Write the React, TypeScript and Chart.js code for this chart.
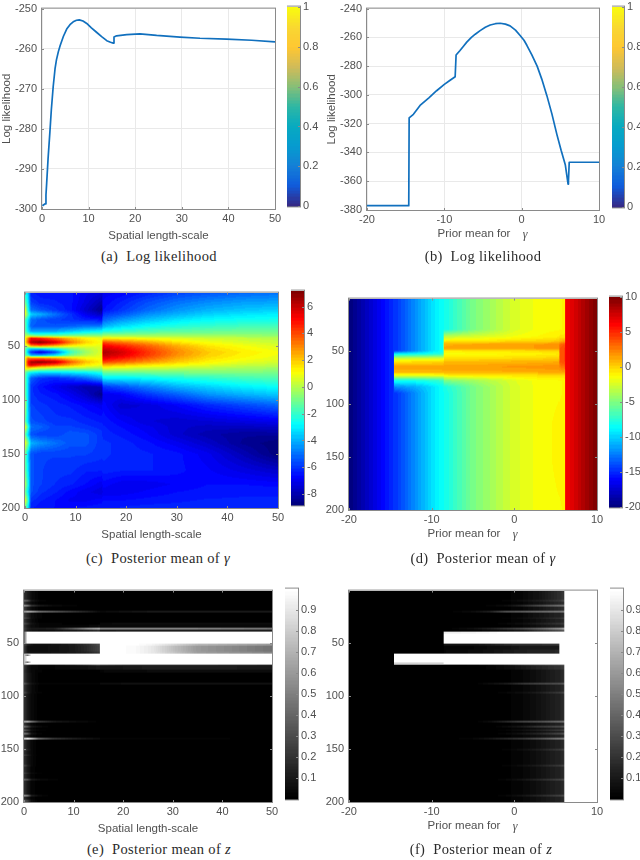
import React, { useEffect, useRef } from "react";
import { Chart, registerables } from "chart.js";

Chart.register(...registerables);

// ---------- line panels ----------
const likeLengthX = [0.1,0.3,0.7,0.85,1,1.3,1.7,2,2.4,2.8,3.1,3.5,3.9,4.6,5.3,6,6.7,7.4,8,8.8,9.6,10.6,11.7,12.8,13.9,14.7,15.3,15.45,16,18.2,21,24.6,29.6,33.9,39.6,45,50];
const likeLengthY = [-299.2,-299,-298.7,-296.5,-293.6,-287.5,-280.7,-275.3,-269.5,-265,-262.8,-260.8,-259.2,-256.9,-255.1,-254,-253.3,-252.9,-252.8,-253.1,-253.7,-254.8,-255.9,-257,-258,-258.4,-258.6,-257.1,-256.8,-256.5,-256.3,-256.7,-257.1,-257.4,-257.6,-257.9,-258.3];
const likeMeanX = [-20,-14.6,-14.55,-14,-13.14,-12,-11,-10,-9.3,-8.6,-8.48,-8,-7.5,-7.1,-6.5,-6,-5.37,-4.7,-4.07,-3.4,-2.78,-2.1,-1.5,-0.8,-0.2,0.3,0.67,1.3,2,2.6,3.26,3.9,4.56,5.1,5.64,6,6.05,6.15,10];
const likeMeanY = [-377,-377,-316,-313.5,-307.3,-302,-297.1,-292.7,-290,-287.4,-272.3,-269.3,-266,-263.3,-260,-257.8,-255.3,-253,-251.4,-250.5,-250.2,-250.8,-252,-255,-258.7,-262,-265.5,-272,-280,-289,-300.5,-313,-327.6,-338.5,-348.5,-362,-360,-346.8,-346.8];

const ticksLengthX = [0,10,20,30,40,50];
const ticksMeanX = [-20,-10,0,10];
const ticksLikeA = [-300,-290,-280,-270,-260,-250];
const ticksLikeB = [-380,-360,-340,-320,-300,-280,-260,-240];
const ticksRow = [50,100,150,200];
const ticksBarParula = [0,0.2,0.4,0.6,0.8,1];
const ticksBarC = [-8,-6,-4,-2,0,2,4,6];
const ticksBarD = [-20,-15,-10,-5,0,5,10];
const ticksBarGray = [0.1,0.2,0.3,0.4,0.5,0.6,0.7,0.8,0.9];

// ---------- panel (c) ----------
const cX = [0,0.6,1.2,3,6,9,12,15.2,15.4,19,24,30,36,43,50];
const cY = [1,10,17,21,26,32,37,41,43,47,50,53,56,59,61,65,68,71,75,80,88,95,105,120,125,132,140,150,165,178,185,193,200];
const cValues = [
[-2.5,-3.5,-6.3,-6.5,-6.5,-6.5,-7,-7.3,-7,-6.8,-6.3,-5.8,-5.5,-5.2,-5],
[-1,-3,-5.8,-6.2,-6.3,-6.5,-7.2,-8,-6.8,-6.3,-5.6,-5,-4.6,-4.3,-4.2],
[1,-2.5,-5,-5.5,-6,-6.5,-7.5,-8.5,-6.6,-6,-5.2,-4.5,-4,-3.7,-3.5],
[1,-1.5,-3.5,-4,-5,-6,-7,-7.8,-6,-5.5,-4.6,-4,-3.5,-3.2,-3],
[-1.5,-3,-5,-5.5,-5.8,-6,-6.3,-6.5,-5.3,-4.5,-3.8,-3.2,-2.8,-2.6,-2.5],
[-1,-3.5,-5.3,-5.5,-5.5,-5.3,-5,-4.8,-4,-3.3,-2.7,-2.3,-2,-1.8,-1.8],
[-1,-3,-4,-4.2,-4,-3.5,-3,-2.6,-2.3,-2,-1.6,-1.3,-1.2,-1.1,-1.1],
[0,0,-0.5,-1,-1,-0.8,-0.6,-0.5,-0.2,-0.2,-0.3,-0.3,-0.3,-0.4,-0.5],
[1,3,5,4.5,3.2,2,1.2,0.7,1.2,1.1,0.9,0.6,0.4,0.2,0],
[1,4,6.2,7,5.8,3.4,1.9,1.1,4,3.4,2.6,1.6,1,0.6,0.3],
[0,1,3,3.5,2.6,1.4,0.9,0.8,5.2,4.6,3.6,2.4,1.5,1,0.6],
[-1,-3,-3.5,-3.5,-2.5,-1,0,0.6,5.9,5.3,4.1,2.8,1.8,1.2,0.8],
[-1,-4,-6,-7.3,-5.5,-2,-0.4,0.7,6.4,5.8,4.4,3,2,1.4,1],
[-1,-2,-4,-4,-3,-1,0.1,0.8,6.1,5.5,4.3,2.9,1.9,1.3,0.9],
[1,3,2.5,2.5,2,1.4,1,0.9,5.6,5,3.9,2.6,1.7,1.2,0.8],
[1,5,6.5,7,6.2,3.8,2.2,1.3,4.2,3.7,2.9,2,1.3,0.8,0.5],
[1,4.5,5.5,4.5,3.6,2.4,1.4,0.8,2.4,2,1.5,1.1,0.7,0.3,0.1],
[1,1.5,1,0.3,-0.3,-0.3,-0.2,-0.3,0.6,0.4,0.2,0.1,-0.1,-0.3,-0.4],
[-1,-2.5,-3,-3.5,-3.5,-3.2,-3,-2.5,-1.3,-1.3,-1.2,-1,-0.9,-0.9,-0.9],
[-1,-3.5,-5.3,-6,-6.2,-5.8,-5.2,-4.2,-3,-3,-2.8,-2.4,-2.1,-1.8,-1.6],
[-1,-3.5,-6,-6.5,-7,-7.5,-8,-7.8,-6,-5.5,-4.8,-4,-3.5,-3,-2.7],
[-1,-3.5,-6,-6.3,-6.5,-7,-7.6,-8.6,-7,-6.8,-6,-5.3,-4.5,-4,-3.6],
[0,-3.5,-5.8,-6,-6.2,-6.4,-6.7,-7,-6.7,-7.5,-7.3,-6.8,-6.2,-5.7,-5.2],
[-1,-3.5,-5.5,-5.7,-6,-6,-6.2,-6.4,-6.4,-6.8,-7.3,-7.5,-7.4,-7.2,-7],
[1,-2,-5,-5.2,-5.8,-5.8,-6,-6.2,-6.3,-6.6,-7,-7.5,-7.7,-7.7,-7.6],
[-1,-3.5,-5.5,-5.8,-5.8,-5.4,-5.5,-6,-6.2,-6.4,-6.8,-7.5,-8,-8.3,-8.3],
[1,-1,-4,-4.5,-5,-5.5,-5.5,-6,-6,-6.2,-6.5,-7,-7.6,-8.4,-8.8],
[-1,-3.5,-5.5,-5.8,-5.8,-5.8,-5.8,-6,-6,-6.2,-6.3,-6.5,-7,-7.9,-8.8],
[-1,-3,-5.5,-5.8,-6,-6,-6.3,-6.3,-6.2,-6.3,-6.3,-6.5,-6.8,-7.2,-7.6],
[0,-2.5,-5.5,-5.8,-6.1,-6.3,-6.6,-7,-6.7,-7,-7,-6.8,-6.6,-6.6,-6.7],
[-1,-3,-5.5,-6,-6.3,-6.7,-7,-7.3,-7,-7,-6.8,-6.6,-6.5,-6.4,-6.4],
[1,-2,-6,-6.3,-6.6,-6.9,-6.9,-6.7,-6.6,-6.6,-6.5,-6.4,-6.3,-6.3,-6.3],
[-1,-3,-6.3,-6.5,-6.6,-6.6,-6.5,-6.4,-6.4,-6.3,-6.2,-6.2,-6.2,-6.1,-6.1],
];

// ---------- panel (d) ----------
const dX = [-20,-15.2,-15,-14.6,-14.5,-12,-10,-8.6,-8.5,-5,-2,0,3,5.4,5.5,6.1,6.2,10];
const dY = [1,30,37,41,44,48,50,53,57,60,65,70,73,78,84,90,120,150,200];
const dValues = [
[-20,-15.4,-15,-14.8,-14.8,-12,-9.6,-8.3,-8.3,-5.2,-3.5,-2.4,-1.5,-1.3,-1.3,-1.2,6.2,10],
[-20,-15.4,-15,-14.8,-14.8,-12,-9.6,-8.3,-8.3,-5.2,-3.5,-2.4,-1.5,-1.3,-1.3,-1.2,6.2,10],
[-20,-15.4,-15,-14.8,-14.8,-12,-9.6,-8.3,-3,-2.4,-2,-1.6,-1.2,-0.8,-0.6,-0.5,6.2,10],
[-20,-15.4,-15,-14.8,-14.8,-12,-9.6,-8.3,-0.8,-0.6,-0.4,-0.2,0,0.2,0.8,1.2,6.2,10],
[-20,-15.4,-15,-14.8,-14.8,-12,-9.6,-8.3,1,1.2,1.3,1.4,1.6,1.8,3,3.6,6.2,10],
[-20,-15.4,-15,-14.8,-14.8,-12,-9.6,-8.3,1.2,1.3,1.3,1.4,1.6,1.6,3.5,4,6.2,10],
[-20,-15.4,-15,-14.8,-14.8,-12,-9.6,-8.3,-0.8,-0.6,-0.5,-0.4,-0.2,0,3.6,4,6.2,10],
[-20,-15.4,-15,-14.8,-9,-8.5,-8,-7.5,-1.5,-1.4,-1.3,-1.2,-1,-0.8,3.5,4,6.2,10],
[-20,-15.4,-15,-14.8,-3.5,-3,-2.8,-2.6,-0.5,-0.5,-0.4,-0.3,-0.2,0,3.5,4,6.2,10],
[-20,-15.4,-15,-14.8,-0.8,-0.6,-0.5,-0.4,0.5,0.5,0.6,0.7,0.8,1,3.6,4,6.2,10],
[-20,-15.4,-15,-14.8,1.4,1.4,1.4,1.5,1.5,1.5,1.6,1.7,1.8,2,2.5,3,6.2,10],
[-20,-15.4,-15,-14.8,0.8,0.8,0.8,0.9,1,1,1,1,1.2,1.3,1.3,1.4,6.2,10],
[-20,-15.4,-15,-14.8,-1.5,-1.5,-1.5,-1.5,-0.8,-0.6,-0.5,-0.4,-0.3,-0.2,-0.2,-0.2,6.2,10],
[-20,-15.4,-15,-14.8,-8,-8,-7.5,-7,-5,-4,-3,-2.2,-1.5,-1.3,-1.3,-1.2,6.2,10],
[-20,-15.4,-15,-14.8,-12,-11,-9.6,-8.3,-8,-5.2,-3.5,-2.4,-1.5,-1.3,-1.3,-1.2,6.2,10],
[-20,-15.4,-15,-14.8,-14.8,-12,-9.6,-8.3,-8.3,-5.2,-3.5,-2.4,-1.5,-1.3,-1.3,-1.2,6.2,10],
[-20,-15.4,-15,-14.8,-14.8,-12,-9.6,-8.3,-8.3,-5.2,-3.5,-2.4,-1.5,-1.1,-1.1,-1,6.2,10],
[-20,-15.4,-15,-14.8,-14.8,-12,-9.6,-8.3,-8.3,-5.2,-3.5,-2.4,-1.5,-1.1,-1.1,-1,6.2,10],
[-20,-15.4,-15,-14.8,-14.8,-12,-9.6,-8.3,-8.3,-5.2,-3.5,-2.4,-1.5,-1.3,-1.3,-1.2,6.2,10],
];

// ---------- panel (e): each row starts at eY and holds until the next; rows are filled with 0 on the right ----------
const eX = [0,0.7,1.5,3,6,10,13,15.2,15.4,22,26,30,35,50];
const eY = [1,9.5,11,14.5,16,20,22,26,27.5,31.5,33,36,38,40,51,53,58,60,61,62.2,67.5,69,70.5,72,75,78,88,89.5,96,97.5,123.5,125,128,129.5,131.5,133,135,136.5,139,141,150,151.5,155,156.5,165,166.5,172,173.5,178,179.5,193,195,198,199.5];
const eValues = [
[0.2,0.12,0.05,0.01],
[0.38,0.3,0.1,0.03],
[0.22,0.12,0.05,0.01],
[0.55,0.45,0.2,0.1,0.04,0.02],
[0.25,0.12,0.05,0.01],
[0.55,0.65,0.6,0.42,0.32,0.2,0.12,0.05,0.04,0.08,0.1,0.1,0.1,0.1],
[0.25,0.15,0.06,0.02],
[0.35,0.25,0.07,0.02],
[0.22,0.12,0.05,0.01],
[0.3,0.2,0.08,0.03,0.02,0.01,0.01,0.01,0.04,0.06,0.06,0.06,0.06,0.06],
[0.22,0.12,0.06,0.03,0.02,0.02,0.03,0.05,0.04,0.04,0.04,0.04,0.04,0.04],
[0.25,0.15,0.1,0.1,0.12,0.35,0.55,0.65,0.5,0.5,0.5,0.5,0.5,0.45],
[0.25,0.12,0.08,0.06,0.06,0.1,0.14,0.18,0.1,0.12,0.12,0.12,0.12,0.12],
[0.35,1,1,1,1,1,1,1,1,1,1,1,1,1],
[0.3,0.15,0.08,0.07,0.08,0.12,0.2,0.3,1,1,0.95,0.85,0.72,0.6],
[0.25,0.08,0.05,0.05,0.07,0.1,0.18,0.27,1,0.98,0.9,0.75,0.6,0.45],
[0.25,0.1,0.07,0.07,0.08,0.1,0.15,0.22,1,0.98,0.9,0.78,0.62,0.52],
[0.7,1,1,1,1,1,1,1,1,1,1,1,1,1],
[0.8,0.15,1,1,1,1,1,1,1,1,1,1,1,1],
[0.7,1,1,1,1,1,1,1,1,1,1,1,1,1],
[0.8,0.15,1,1,1,1,1,1,1,1,1,1,1,1],
[0.7,1,1,1,1,1,1,1,1,1,1,1,1,1],
[0.3,0.2,0.08,0.06,0.06,0.12,0.2,0.3,0.25,0.18,0.18,0.18,0.18,0.15],
[0.25,0.1,0.04,0.03,0.03,0.05,0.08,0.1,0.08,0.1,0.12,0.12,0.12,0.1],
[0.22,0.1,0.04,0.02,0,0,0,0,0.03,0.04,0.05,0.05,0.05,0.05],
[0.22,0.12,0.05,0.01],
[0.35,0.2,0.08,0.03,0.02,0.02,0.02,0.02,0.05,0.07,0.07,0.07,0.07,0.07],
[0.22,0.12,0.05,0.01],
[0.3,0.15,0.05,0.02],
[0.2,0.1,0.04,0.01],
[0.6,0.65,0.45,0.22,0.1,0.05,0.03,0.01],
[0.22,0.12,0.04],
[0.45,0.3,0.1,0.04],
[0.22,0.12,0.04],
[0.45,0.3,0.08,0.03],
[0.22,0.12,0.04],
[0.45,0.35,0.08,0.02],
[0.22,0.12,0.04],
[0.75,0.9,0.75,0.4,0.2,0.12,0.07,0.05,0.03,0.03,0.03,0.03,0.02,0.01],
[0.22,0.12,0.04],
[0.3,0.15,0.04],
[0.2,0.1,0.04],
[0.32,0.18,0.05],
[0.2,0.1,0.04],
[0.3,0.15,0.04],
[0.2,0.1,0.03],
[0.3,0.18,0.06,0.02],
[0.2,0.1,0.03],
[0.4,0.3,0.1,0.05,0.02],
[0.2,0.1,0.03],
[0.55,0.45,0.12,0.04],
[0.2,0.1,0.03],
[0.35,0.25,0.06],
[0.2,0.1,0.03],
];

// ---------- panel (f): same kind of rows, right aligned and filled with 0 on the left ----------
const fX = [-20,-14.6,-14.5,-8.6,-8.5,-5,-3,-1,1,3,5.4,5.5,6,6.1,10];
const fY = [1,9.5,11,14.5,16,20,22,26,27.5,31.5,33,36,38,40,41.5,51,52.5,57,60,68.5,69.5,70.5,72,75,88,89.5,96,97.5,123.5,125,128,129.5,131.5,133,135,136.5,139,141,150,151.5,165,166.5,178,179.5,193,194.5];
const fValues = [
[0.01,0.03,0.08,0.18,0.18,0.22,1,1],
[0.02,0.06,0.12,0.22,0.22,0.3,1,1],
[0.01,0.03,0.08,0.16,0.16,0.2,1,1],
[0.02,0.05,0.15,0.28,0.42,0.42,0.45,1,1],
[0.01,0.03,0.08,0.16,0.16,0.2,1,1],
[0.05,0.12,0.3,0.35,0.4,0.45,0.45,0.5,1,1],
[0.01,0.03,0.08,0.14,0.14,0.18,1,1],
[0.02,0.06,0.12,0.22,0.22,0.28,1,1],
[0.01,0.03,0.07,0.14,0.14,0.18,1,1],
[0.03,0.06,0.12,0.2,0.2,0.25,1,1],
[0.01,0.03,0.07,0.14,0.14,0.18,1,1],
[0.06,0.12,0.2,0.28,0.38,0.55,0.55,0.65,1,1],
[0.03,0.06,0.1,0.2,0.3,0.3,0.35,1,1],
[0,0.92,0.95,0.97,1,1,1,1,1,1,1,1],
[0,1,1,1,1,1,1,1,1,1,1,1],
[0,0.08,0.08,0.12,0.18,0.2,0.2,0.22,1,1,1,1],
[0,0.03,0.03,0.05,0.07,0.1,0.1,0.1,1,1,1,1],
[0,0.03,0.05,0.07,0.1,0.12,0.14,0.16,1,1,1,1],
[0,1,1,1,1,1,1,1,1,1,1,1,1,1],
[0,0.72,0.75,1,1,1,1,1,1,1,1,1,1,1],
[0,1,1,1,1,1,1,1,1,1,1,1,1,1],
[0.02,0.05,0.1,0.2,0.25,0.3,0.3,0.35,1,1],
[0.02,0.05,0.1,0.15,0.2,0.2,0.25,1,1],
[0.01,0.03,0.07,0.14,0.14,0.18,1,1],
[0.05,0.1,0.2,0.25,0.3,0.3,0.35,1,1],
[0.01,0.03,0.07,0.14,0.14,0.18,1,1],
[0.03,0.06,0.12,0.22,0.22,0.28,1,1],
[0.01,0.03,0.07,0.14,0.14,0.18,1,1],
[0.05,0.15,0.25,0.3,0.4,0.4,0.45,1,1],
[0.01,0.03,0.07,0.14,0.14,0.18,1,1],
[0.04,0.1,0.2,0.28,0.28,0.33,1,1],
[0.01,0.03,0.07,0.14,0.14,0.18,1,1],
[0.03,0.08,0.15,0.26,0.26,0.32,1,1],
[0.01,0.03,0.07,0.14,0.14,0.18,1,1],
[0.03,0.08,0.15,0.26,0.26,0.32,1,1],
[0.01,0.03,0.07,0.14,0.14,0.18,1,1],
[0.03,0.08,0.15,0.2,0.3,0.45,0.45,0.5,1,1],
[0.01,0.03,0.07,0.14,0.14,0.18,1,1],
[0.02,0.06,0.12,0.22,0.22,0.27,1,1],
[0.01,0.03,0.07,0.14,0.14,0.18,1,1],
[0.02,0.06,0.12,0.22,0.22,0.27,1,1],
[0.01,0.03,0.07,0.14,0.14,0.18,1,1],
[0.03,0.08,0.15,0.25,0.25,0.3,1,1],
[0.01,0.03,0.07,0.14,0.14,0.18,1,1],
[0.03,0.08,0.15,0.25,0.25,0.3,1,1],
[0.01,0.03,0.07,0.14,0.14,0.18,1,1],
];

// ---------- colormap anchors ----------
const jetStops = [[0,0,0,128],[0.125,0,0,255],[0.375,0,255,255],[0.625,255,255,0],[0.875,255,0,0],[1,128,0,0]];
const parulaStops = [[0,53,42,135],[0.1,15,92,221],[0.2,20,129,214],[0.3,6,156,207],[0.4,7,170,193],[0.5,46,183,164],[0.6,135,191,119],[0.7,209,187,89],[0.8,254,199,50],[0.9,249,215,50],[1,249,251,14]];
const grayStops = [[0,0,0,0],[1,255,255,255]];

const SANS = "'Liberation Sans', Arial, sans-serif";
const TEXT = "#505050";
const FRAME = "#8a8a8a";

function makeLut(stops: number[][]) {
  const lut: number[][] = [];
  for (let i = 0; i < 64; i++) {
    const t = i / 63;
    let k = 0;
    while (k < stops.length - 2 && t > stops[k + 1][0]) k++;
    const a = stops[k], b = stops[k + 1];
    const f = (t - a[0]) / (b[0] - a[0]);
    lut.push([1, 2, 3].map((c) => a[c] + (b[c] - a[c]) * f));
  }
  return lut;
}

function locate(xs: number[], v: number) {
  if (v <= xs[0]) return [0, 0];
  if (v >= xs[xs.length - 1]) return [xs.length - 2, 1];
  let i = 0;
  while (xs[i + 1] < v) i++;
  return [i, (v - xs[i]) / (xs[i + 1] - xs[i])];
}

// draws the mesh of a dataset through the chart's own scales
function heatPlugin(xs: number[], ys: number[], stops: number[][], vmin: number, vmax: number, stepRows = false) {
  const lut = makeLut(stops);
  return {
    id: "heat",
    beforeDatasetsDraw(chart: any) {
      const { left, top, right, bottom } = chart.chartArea;
      const w = Math.round(right - left), h = Math.round(bottom - top);
      const pts = chart.data.datasets[0].data;
      const nx = xs.length;
      const off = document.createElement("canvas");
      off.width = w; off.height = h;
      const octx = off.getContext("2d")!;
      const img = octx.createImageData(w, h);
      const xl = [] as number[][];
      for (let px = 0; px < w; px++) xl.push(locate(xs, chart.scales.x.getValueForPixel(left + px + 0.5)));
      for (let py = 0; py < h; py++) {
        const loc = locate(ys, chart.scales.y.getValueForPixel(top + py + 0.5));
        const j = loc[0];
        const fy = stepRows ? (loc[1] >= 1 ? 1 : 0) : loc[1];
        for (let px = 0; px < w; px++) {
          const [i, fx] = xl[px];
          const v00 = pts[j * nx + i].v, v10 = pts[j * nx + i + 1].v;
          const v01 = pts[(j + 1) * nx + i].v, v11 = pts[(j + 1) * nx + i + 1].v;
          const v = (v00 * (1 - fx) + v10 * fx) * (1 - fy) + (v01 * (1 - fx) + v11 * fx) * fy;
          const t = Math.max(0, Math.min(63, Math.floor(((v - vmin) / (vmax - vmin)) * 64)));
          const c = lut[t];
          const o = (py * w + px) * 4;
          img.data[o] = c[0]; img.data[o + 1] = c[1]; img.data[o + 2] = c[2]; img.data[o + 3] = 255;
        }
      }
      octx.putImageData(img, 0, 0);
      chart.ctx.drawImage(off, left, top);
    },
  };
}

// MATLAB-like box with inward ticks
function framePlugin(both: boolean, tickLen: number) {
  return {
    id: "frame",
    afterDraw(chart: any) {
      const { left, top, right, bottom } = chart.chartArea;
      const ctx = chart.ctx;
      ctx.save();
      ctx.strokeStyle = FRAME;
      ctx.lineWidth = 1;
      ctx.strokeRect(left - 0.5, top - 0.5, right - left + 1, bottom - top + 1);
      const sx = chart.scales.x, sy = chart.scales.y;
      ctx.beginPath();
      if (sx && sx.options.display) {
        sx.ticks.forEach((t: any) => {
          const p = Math.round(sx.getPixelForValue(t.value)) + 0.5;
          ctx.moveTo(p, bottom); ctx.lineTo(p, bottom - tickLen);
          if (both) { ctx.moveTo(p, top); ctx.lineTo(p, top + tickLen); }
        });
      }
      sy.ticks.forEach((t: any) => {
        const p = Math.round(sy.getPixelForValue(t.value)) + 0.5;
        if (sy.options.position === "right" || both) { ctx.moveTo(right, p); ctx.lineTo(right - tickLen, p); }
        if (sy.options.position !== "right") { ctx.moveTo(left, p); ctx.lineTo(left + tickLen, p); }
      });
      ctx.stroke();
      ctx.restore();
    },
  };
}

// axis label made of a sans part and a serif gamma
function gammaLabel(cx: number, gx: number, dy: number) {
  return {
    id: "gammaLabel",
    afterDraw(chart: any) {
      const { left, right, bottom } = chart.chartArea;
      const mid = (left + right) / 2;
      const ctx = chart.ctx;
      ctx.save();
      ctx.fillStyle = TEXT;
      ctx.textAlign = "center";
      ctx.textBaseline = "middle";
      ctx.font = `11.5px ${SANS}`;
      ctx.fillText("Prior mean for", mid + cx, bottom + dy);
      ctx.font = "italic 12px 'Liberation Serif', serif";
      ctx.fillText("γ", mid + gx, bottom + dy + 1);
      ctx.restore();
    },
  };
}

function fixedScale(extra: any, size: number, isX: boolean, ticks: number[]) {
  return {
    type: "linear",
    afterBuildTicks: (s: any) => { s.ticks = ticks.map((value) => ({ value })); },
    afterFit: (s: any) => { if (isX) s.height = size; else s.width = size; },
    ...extra,
  };
}

const tickFont = { family: SANS, size: 11 };

type MainCfg = {
  plot: number[];
  padL: number;
  xRange: number[]; xTicks: number[];
  yRange: number[]; yTicks: number[];
  reverse?: boolean;
  xTitle?: string; yTitle?: string;
  gamma?: boolean;
  grid?: boolean;
  datasets: any[];
  plugins: any[];
};

function mainConfig(c: MainCfg) {
  const [l, t, r, b] = c.plot;
  const padT = 7, padR = 14, padB = 34;
  const box = { left: l - c.padL, top: t - padT, width: r - l + c.padL + padR, height: b - t + padT + padB };
  const grid = c.grid
    ? { display: true, color: "#e9e9e9", lineWidth: 1, drawTicks: false, tickLength: 0 }
    : { display: false, drawTicks: false, tickLength: 0 };
  const config = {
    type: "scatter",
    data: { datasets: c.datasets },
    plugins: [...c.plugins, framePlugin(!c.grid, 2), ...(c.gamma ? [gammaLabel(-9, 42, 24)] : [])],
    options: {
      animation: false,
      responsive: false,
      devicePixelRatio: 1,
      layout: { autoPadding: false, padding: { left: 0, top: padT, right: padR, bottom: 0 } },
      plugins: { legend: { display: false }, tooltip: { enabled: false }, title: { display: false } },
      scales: {
        x: fixedScale({
          min: c.xRange[0], max: c.xRange[1],
          border: { display: false },
          grid,
          title: { display: !!c.xTitle, text: c.xTitle, color: TEXT, font: { family: SANS, size: 11.5 }, padding: { top: 1, bottom: 0 } },
          ticks: { color: TEXT, font: tickFont, padding: 3, maxRotation: 0, autoSkip: false, callback: (v: number) => String(v) },
        }, padB, true, c.xTicks),
        y: fixedScale({
          min: c.yRange[0], max: c.yRange[1], reverse: !!c.reverse,
          border: { display: false },
          grid,
          title: { display: !!c.yTitle, text: c.yTitle, color: TEXT, font: { family: SANS, size: 11.5 }, padding: 0 },
          ticks: { color: TEXT, font: tickFont, padding: 5, autoSkip: false, callback: (v: number) => String(v) },
        }, c.padL, false, c.yTicks),
      },
    },
  };
  return { box, config };
}

function barConfig(x0: number, x1: number, top: number, bottom: number, stops: number[][], vmin: number, vmax: number, ticks: number[]) {
  const padT = 7, padB = 7, padR = 30;
  const box = { left: x0, top: top - padT, width: x1 - x0 + padR, height: bottom - top + padT + padB };
  const levels = [vmin, vmax];
  const columns = [0, 1];
  const data: any[] = [];
  levels.forEach((v) => columns.forEach((x) => data.push({ x, y: v, v })));
  const config = {
    type: "scatter",
    data: { datasets: [{ data, pointRadius: 0, showLine: false }] },
    plugins: [heatPlugin(columns, levels, stops, vmin, vmax), framePlugin(false, 2)],
    options: {
      animation: false,
      responsive: false,
      devicePixelRatio: 1,
      layout: { autoPadding: false, padding: { left: 0, top: padT, right: 0, bottom: padB } },
      plugins: { legend: { display: false }, tooltip: { enabled: false }, title: { display: false } },
      scales: {
        x: { type: "linear", display: false, min: 0, max: 1 },
        y: fixedScale({
          position: "right",
          min: vmin, max: vmax,
          border: { display: false },
          grid: { display: false, drawTicks: false, tickLength: 0 },
          ticks: { color: TEXT, font: tickFont, padding: 3, autoSkip: false, callback: (v: number) => String(v) },
        }, padR, false, ticks),
      },
    },
  };
  return { box, config };
}

function meshPoints(xs: number[], ys: number[], table: number[][], alignRight = false) {
  const data: any[] = [];
  ys.forEach((y, j) => {
    const row = table[j];
    const pad = alignRight ? xs.length - row.length : 0;
    xs.forEach((x, i) => data.push({ x, y, v: (alignRight ? row[i - pad] : row[i]) ?? 0 }));
  });
  return [{ data, pointRadius: 0, showLine: false }];
}

function lineData(xs: number[], ys: number[]) {
  return [{
    data: xs.map((x, i) => ({ x, y: ys[i] })),
    showLine: true, pointRadius: 0, borderColor: "#1170BE", borderWidth: 1.7, tension: 0, borderJoinStyle: "round",
  }];
}

const charts = [
  mainConfig({ plot: [42,4,275,209], padL: 42, xRange: [0,50], xTicks: ticksLengthX, yRange: [-300,-250], yTicks: ticksLikeA, xTitle: "Spatial length-scale", yTitle: "Log likelihood", grid: true, datasets: lineData(likeLengthX, likeLengthY), plugins: [] }),
  barConfig(287, 300, 4, 209, parulaStops, 0, 1, ticksBarParula),
  mainConfig({ plot: [367,4,599,210], padL: 42, xRange: [-20,10], xTicks: ticksMeanX, yRange: [-380,-240], yTicks: ticksLikeB, gamma: true, yTitle: "Log likelihood", grid: true, datasets: lineData(likeMeanX, likeMeanY), plugins: [] }),
  barConfig(612, 624, 4, 210, parulaStops, 0, 1, ticksBarParula),
  mainConfig({ plot: [25,288,278,508], padL: 25, xRange: [0,50], xTicks: ticksLengthX, yRange: [1,200], yTicks: ticksRow, reverse: true, xTitle: "Spatial length-scale", datasets: meshPoints(cX, cY, cValues), plugins: [heatPlugin(cX, cY, jetStops, -8.85, 7.2)] }),
  barConfig(291, 304, 288, 508, jetStops, -8.85, 7.2, ticksBarC),
  mainConfig({ plot: [349,294,597,510], padL: 29, xRange: [-20,10], xTicks: ticksMeanX, yRange: [1,200], yTicks: ticksRow, reverse: true, gamma: true, datasets: meshPoints(dX, dY, dValues), plugins: [heatPlugin(dX, dY, jetStops, -20, 10)] }),
  barConfig(609, 622, 294, 510, jetStops, -20, 10, ticksBarD),
  mainConfig({ plot: [24,586,272,802], padL: 24, xRange: [0,50], xTicks: ticksLengthX, yRange: [1,200], yTicks: ticksRow, reverse: true, xTitle: "Spatial length-scale", datasets: meshPoints(eX, eY, eValues), plugins: [heatPlugin(eX, eY, grayStops, 0, 1, true)] }),
  barConfig(285, 298, 586, 802, grayStops, 0, 1, ticksBarGray),
  mainConfig({ plot: [349,586,597,802], padL: 29, xRange: [-20,10], xTicks: ticksMeanX, yRange: [1,200], yTicks: ticksRow, reverse: true, gamma: true, datasets: meshPoints(fX, fY, fValues, true), plugins: [heatPlugin(fX, fY, grayStops, 0, 1, true)] }),
  barConfig(610, 623, 586, 802, grayStops, 0, 1, ticksBarGray),
];

const captions: { cx: number; y: number; parts: (string | [string])[] }[] = [
  { cx: 159, y: 258, parts: ["(a)  Log likelihood"] },
  { cx: 483, y: 258, parts: ["(b)  Log likelihood"] },
  { cx: 158, y: 560, parts: ["(c)  Posterior mean of ", ["γ"]] },
  { cx: 483, y: 560, parts: ["(d)  Posterior mean of ", ["γ"]] },
  { cx: 159, y: 851, parts: ["(e)  Posterior mean of ", ["z"]] },
  { cx: 481, y: 851, parts: ["(f)  Posterior mean of ", ["z"]] },
];

function ChartCanvas({ item }: { item: any }) {
  const ref = useRef<HTMLCanvasElement>(null);
  useEffect(() => {
    const chart = new Chart(ref.current!, item.config);
    return () => chart.destroy();
  }, [item]);
  const { left, top, width, height } = item.box;
  return (
    <canvas
      ref={ref}
      width={width}
      height={height}
      style={{ position: "absolute", left, top, width, height, display: "block" }}
    />
  );
}

export default function App() {
  return (
    <div style={{ position: "absolute", left: 0, top: 0, width: 640, height: 860, overflow: "hidden", background: "#fff", filter: "blur(0.35px)" }}>
      {charts.map((item, i) => <ChartCanvas key={i} item={item} />)}
      {captions.map((c, i) => (
        <div
          key={i}
          style={{
            position: "absolute", left: c.cx - 150, width: 300, top: c.y - 10, height: 20, lineHeight: "20px",
            textAlign: "center", whiteSpace: "pre", color: "#2a2a2a",
            font: "14.5px 'Liberation Serif', serif", letterSpacing: "0.35px",
          }}
        >
          {c.parts.map((p, k) => typeof p === "string" ? <span key={k}>{p}</span> : <i key={k}>{p[0]}</i>)}
        </div>
      ))}
    </div>
  );
}
